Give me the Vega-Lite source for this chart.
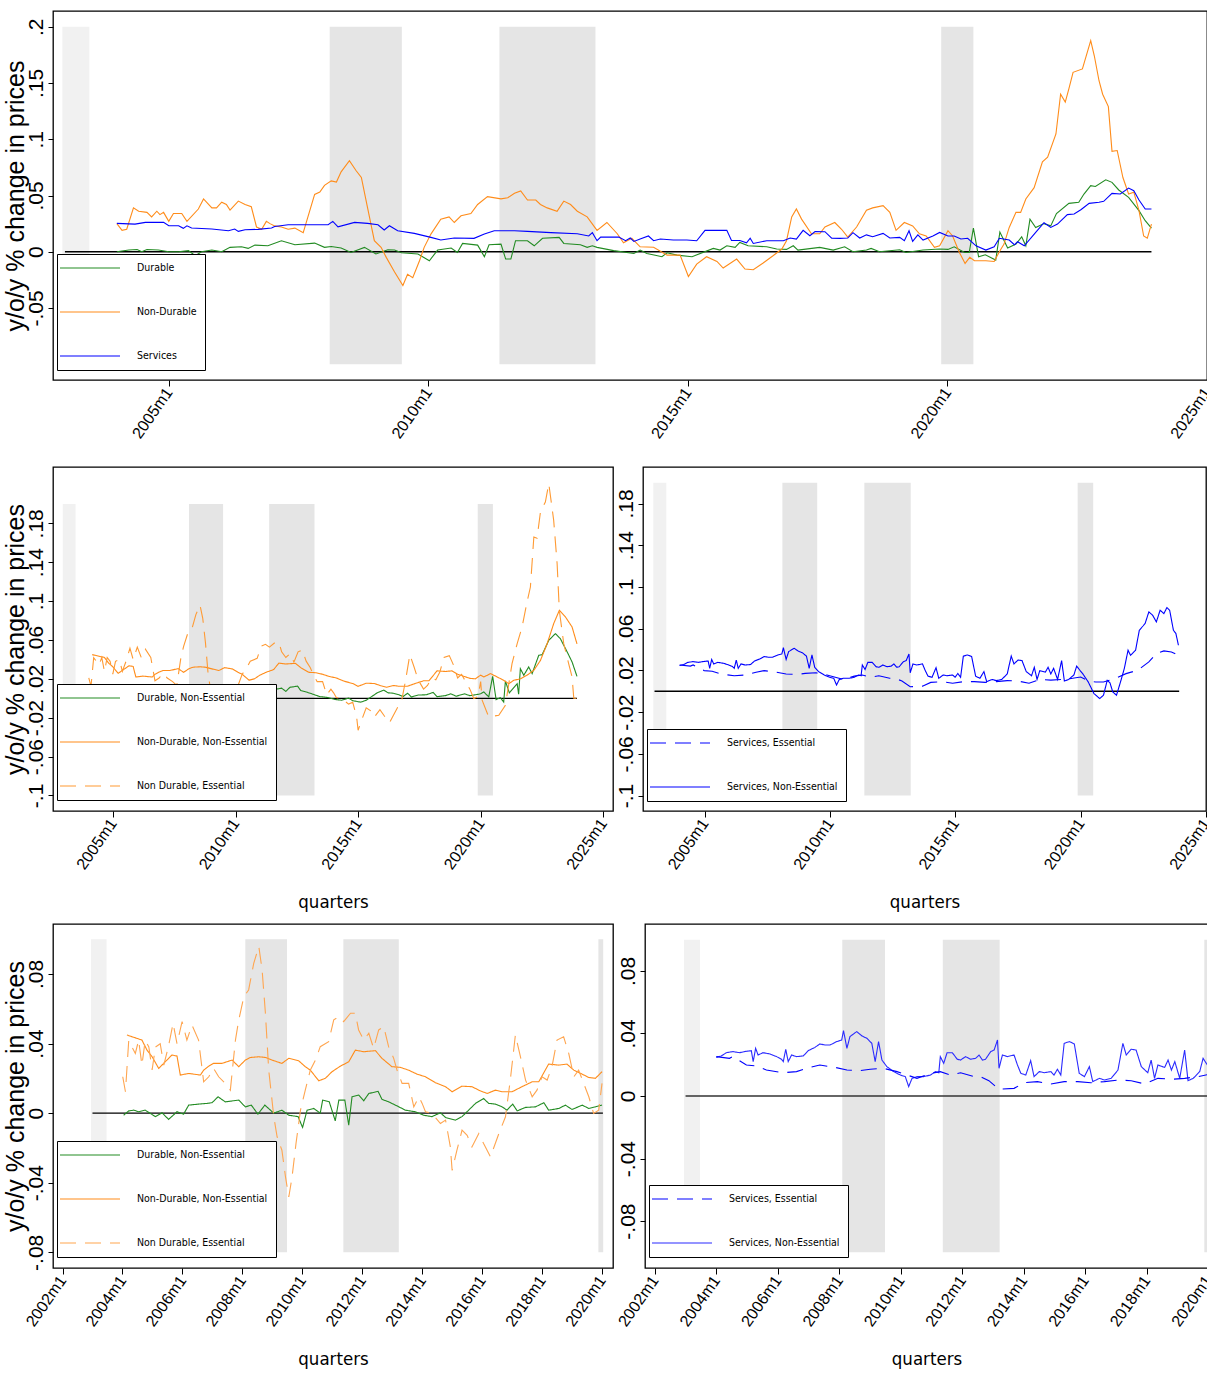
{
"$schema": "https://vega.github.io/schema/vega-lite/v6.json",
"padding": {"left": 2, "top": 10, "right": 0, "bottom": 0},
"background": "white",
"config": {
 "view": {"stroke": "black", "strokeWidth": 1.3},
 "axis": {"grid": false, "domain": false, "tickColor": "black", "tickSize": 5, "labelFont": "Liberation Sans", "labelColor": "black", "titleFont": "Liberation Sans", "titleColor": "black", "titleFontWeight": "normal", "labelOverlap": false, "labelFlush": false, "labelBound": false},
 "axisX": {"labelAngle": -55, "labelAlign": "right", "labelBaseline": "middle", "labelFontSize": 16, "tickSize": 6, "labelPadding": 3, "titleFont": "DejaVu Sans Condensed, Liberation Sans", "titleFontSize": 18.5, "titlePadding": 21},
 "axisY": {"labelAngle": -90, "labelAlign": "center", "labelBaseline": "bottom", "labelFontSize": 21, "labelPadding": 2, "titleFontSize": 25, "titlePadding": -3},
 "legend": {"labelFont": "DejaVu Sans Condensed, Liberation Sans", "labelFontSize": 10.5, "labelColor": "black", "symbolSize": 100, "symbolStrokeWidth": 1.1, "padding": 8, "rowPadding": 32, "labelOffset": 60, "strokeColor": "black", "fillColor": "white", "cornerRadius": 0}
},
"datasets": {
 "bands": [
  {"t": 2002.95, "t2": 2003.47, "t3": 2003.47, "kind": "light"},
  {"t": 2008.1, "t2": 2009.49, "t3": 2009.49, "kind": "dark"},
  {"t": 2011.37, "t2": 2013.22, "t3": 2013.22, "kind": "dark"},
  {"t": 2019.88, "t2": 2020.5, "t3": 2020.04, "kind": "dark"}
 ],
 "zero": [
  {"p": "full", "t": 2003.0, "t2": 2023.93},
  {"p": "pre", "t": 2003.0, "t2": 2020.03}
 ],
 "series": [
{"s":"Durable","t":2004.0,"v":0},{"s":"Durable","t":2004.23,"v":0.0015},{"s":"Durable","t":2004.39,"v":0.002},{"s":"Durable","t":2004.48,"v":0},{"s":"Durable","t":2004.58,"v":0.002},{"s":"Durable","t":2004.8,"v":0.0015},{"s":"Durable","t":2005.0,"v":0},{"s":"Durable","t":2005.19,"v":0},{"s":"Durable","t":2005.38,"v":0.001},{"s":"Durable","t":2005.51,"v":-0.0036},{"s":"Durable","t":2005.63,"v":0},{"s":"Durable","t":2005.83,"v":0.0015},{"s":"Durable","t":2006.02,"v":0},{"s":"Durable","t":2006.18,"v":0.0039},{"s":"Durable","t":2006.4,"v":0.0044},{"s":"Durable","t":2006.53,"v":0.003},{"s":"Durable","t":2006.66,"v":0.0059},{"s":"Durable","t":2006.91,"v":0.0053},{"s":"Durable","t":2007.17,"v":0.0098},{"s":"Durable","t":2007.43,"v":0.0062},{"s":"Durable","t":2007.81,"v":0.0077},{"s":"Durable","t":2008.0,"v":0.0039},{"s":"Durable","t":2008.13,"v":0.0047},{"s":"Durable","t":2008.32,"v":0.0033},{"s":"Durable","t":2008.51,"v":-0.0006},{"s":"Durable","t":2008.77,"v":0.0039},{"s":"Durable","t":2008.99,"v":-0.002},{"s":"Durable","t":2009.22,"v":0.0018},{"s":"Durable","t":2009.35,"v":0.0015},{"s":"Durable","t":2009.48,"v":-0.0009},{"s":"Durable","t":2009.8,"v":-0.002},{"s":"Durable","t":2010.02,"v":-0.008},{"s":"Durable","t":2010.18,"v":0.0015},{"s":"Durable","t":2010.44,"v":0.0033},{"s":"Durable","t":2010.56,"v":-0.0006},{"s":"Durable","t":2010.66,"v":0.0074},{"s":"Durable","t":2010.95,"v":0.0059},{"s":"Durable","t":2011.08,"v":-0.0044},{"s":"Durable","t":2011.17,"v":0.0062},{"s":"Durable","t":2011.4,"v":0.0068},{"s":"Durable","t":2011.49,"v":-0.0065},{"s":"Durable","t":2011.59,"v":-0.0065},{"s":"Durable","t":2011.68,"v":0.0098},{"s":"Durable","t":2011.91,"v":0.0098},{"s":"Durable","t":2012.04,"v":0.0053},{"s":"Durable","t":2012.2,"v":0.012},{"s":"Durable","t":2012.52,"v":0.0128},{"s":"Durable","t":2012.61,"v":0.0074},{"s":"Durable","t":2012.93,"v":0.0062},{"s":"Durable","t":2013.06,"v":0.0039},{"s":"Durable","t":2013.16,"v":0.0053},{"s":"Durable","t":2013.25,"v":0.0039},{"s":"Durable","t":2013.57,"v":0.001},{"s":"Durable","t":2013.96,"v":-0.0015},{"s":"Durable","t":2014.08,"v":0.0015},{"s":"Durable","t":2014.21,"v":-0.0015},{"s":"Durable","t":2014.5,"v":-0.0044},{"s":"Durable","t":2014.6,"v":-0.0009},{"s":"Durable","t":2014.79,"v":-0.003},{"s":"Durable","t":2015.08,"v":-0.0044},{"s":"Durable","t":2015.49,"v":0.003},{"s":"Durable","t":2015.62,"v":0.0015},{"s":"Durable","t":2015.75,"v":0.0053},{"s":"Durable","t":2015.91,"v":0.0039},{"s":"Durable","t":2016.0,"v":0.0083},{"s":"Durable","t":2016.16,"v":0.0053},{"s":"Durable","t":2016.52,"v":0.0044},{"s":"Durable","t":2016.71,"v":0.0024},{"s":"Durable","t":2016.9,"v":0.0021},{"s":"Durable","t":2017.03,"v":0.0053},{"s":"Durable","t":2017.12,"v":0.0015},{"s":"Durable","t":2017.54,"v":0.0039},{"s":"Durable","t":2017.8,"v":0.0015},{"s":"Durable","t":2018.02,"v":0.0044},{"s":"Durable","t":2018.18,"v":0},{"s":"Durable","t":2018.44,"v":0.0015},{"s":"Durable","t":2018.53,"v":0.003},{"s":"Durable","t":2018.69,"v":0},{"s":"Durable","t":2019.08,"v":0.0018},{"s":"Durable","t":2019.2,"v":-0.0006},{"s":"Durable","t":2019.53,"v":0.0015},{"s":"Durable","t":2019.85,"v":0.0024},{"s":"Durable","t":2020.01,"v":0.0021},{"s":"Durable","t":2020.13,"v":0.0044},{"s":"Durable","t":2020.33,"v":-0.0006},{"s":"Durable","t":2020.42,"v":-0.0006},{"s":"Durable","t":2020.5,"v":0.021},{"s":"Durable","t":2020.6,"v":-0.0044},{"s":"Durable","t":2020.73,"v":-0.0027},{"s":"Durable","t":2020.93,"v":-0.0074},{"s":"Durable","t":2021.01,"v":0.0175},{"s":"Durable","t":2021.16,"v":0.0033},{"s":"Durable","t":2021.32,"v":0.0068},{"s":"Durable","t":2021.43,"v":0.0133},{"s":"Durable","t":2021.51,"v":0.0053},{"s":"Durable","t":2021.59,"v":0.029},{"s":"Durable","t":2021.7,"v":0.0216},{"s":"Durable","t":2021.86,"v":0.025},{"s":"Durable","t":2021.99,"v":0.023},{"s":"Durable","t":2022.1,"v":0.034},{"s":"Durable","t":2022.34,"v":0.043},{"s":"Durable","t":2022.53,"v":0.044},{"s":"Durable","t":2022.63,"v":0.0513},{"s":"Durable","t":2022.76,"v":0.0587},{"s":"Durable","t":2022.85,"v":0.058},{"s":"Durable","t":2023.05,"v":0.064},{"s":"Durable","t":2023.17,"v":0.0617},{"s":"Durable","t":2023.3,"v":0.0549},{"s":"Durable","t":2023.49,"v":0.0483},{"s":"Durable","t":2023.69,"v":0.0365},{"s":"Durable","t":2023.81,"v":0.0276},{"s":"Durable","t":2023.93,"v":0.021},
{"s":"Non-Durable","t":2004.0,"v":0.025},{"s":"Non-Durable","t":2004.1,"v":0.019},{"s":"Non-Durable","t":2004.19,"v":0.02},{"s":"Non-Durable","t":2004.32,"v":0.039},{"s":"Non-Durable","t":2004.42,"v":0.036},{"s":"Non-Durable","t":2004.58,"v":0.035},{"s":"Non-Durable","t":2004.67,"v":0.031},{"s":"Non-Durable","t":2004.77,"v":0.036},{"s":"Non-Durable","t":2004.83,"v":0.033},{"s":"Non-Durable","t":2004.9,"v":0.035},{"s":"Non-Durable","t":2005.0,"v":0.027},{"s":"Non-Durable","t":2005.09,"v":0.034},{"s":"Non-Durable","t":2005.25,"v":0.034},{"s":"Non-Durable","t":2005.35,"v":0.027},{"s":"Non-Durable","t":2005.57,"v":0.038},{"s":"Non-Durable","t":2005.67,"v":0.047},{"s":"Non-Durable","t":2005.83,"v":0.039},{"s":"Non-Durable","t":2005.92,"v":0.039},{"s":"Non-Durable","t":2006.02,"v":0.044},{"s":"Non-Durable","t":2006.11,"v":0.042},{"s":"Non-Durable","t":2006.18,"v":0.037},{"s":"Non-Durable","t":2006.34,"v":0.045},{"s":"Non-Durable","t":2006.47,"v":0.042},{"s":"Non-Durable","t":2006.59,"v":0.04},{"s":"Non-Durable","t":2006.69,"v":0.022},{"s":"Non-Durable","t":2006.79,"v":0.02},{"s":"Non-Durable","t":2006.88,"v":0.027},{"s":"Non-Durable","t":2006.95,"v":0.025},{"s":"Non-Durable","t":2007.04,"v":0.023},{"s":"Non-Durable","t":2007.17,"v":0.022},{"s":"Non-Durable","t":2007.3,"v":0.02},{"s":"Non-Durable","t":2007.43,"v":0.021},{"s":"Non-Durable","t":2007.59,"v":0.017},{"s":"Non-Durable","t":2007.81,"v":0.051},{"s":"Non-Durable","t":2007.91,"v":0.053},{"s":"Non-Durable","t":2008.0,"v":0.059},{"s":"Non-Durable","t":2008.13,"v":0.063},{"s":"Non-Durable","t":2008.23,"v":0.062},{"s":"Non-Durable","t":2008.32,"v":0.071},{"s":"Non-Durable","t":2008.48,"v":0.081},{"s":"Non-Durable","t":2008.61,"v":0.072},{"s":"Non-Durable","t":2008.71,"v":0.066},{"s":"Non-Durable","t":2008.83,"v":0.039},{"s":"Non-Durable","t":2008.96,"v":0.0098},{"s":"Non-Durable","t":2009.09,"v":0.0039},{"s":"Non-Durable","t":2009.19,"v":-0.005},{"s":"Non-Durable","t":2009.35,"v":-0.018},{"s":"Non-Durable","t":2009.51,"v":-0.03},{"s":"Non-Durable","t":2009.6,"v":-0.02},{"s":"Non-Durable","t":2009.7,"v":-0.023},{"s":"Non-Durable","t":2009.83,"v":-0.008},{"s":"Non-Durable","t":2009.92,"v":0.0039},{"s":"Non-Durable","t":2010.05,"v":0.0157},{"s":"Non-Durable","t":2010.24,"v":0.029},{"s":"Non-Durable","t":2010.4,"v":0.031},{"s":"Non-Durable","t":2010.5,"v":0.026},{"s":"Non-Durable","t":2010.63,"v":0.032},{"s":"Non-Durable","t":2010.82,"v":0.034},{"s":"Non-Durable","t":2010.95,"v":0.042},{"s":"Non-Durable","t":2011.14,"v":0.049},{"s":"Non-Durable","t":2011.4,"v":0.047},{"s":"Non-Durable","t":2011.53,"v":0.048},{"s":"Non-Durable","t":2011.66,"v":0.052},{"s":"Non-Durable","t":2011.78,"v":0.054},{"s":"Non-Durable","t":2011.91,"v":0.046},{"s":"Non-Durable","t":2012.07,"v":0.046},{"s":"Non-Durable","t":2012.16,"v":0.042},{"s":"Non-Durable","t":2012.29,"v":0.039},{"s":"Non-Durable","t":2012.48,"v":0.036},{"s":"Non-Durable","t":2012.61,"v":0.045},{"s":"Non-Durable","t":2012.74,"v":0.042},{"s":"Non-Durable","t":2012.87,"v":0.036},{"s":"Non-Durable","t":2013.06,"v":0.031},{"s":"Non-Durable","t":2013.25,"v":0.019},{"s":"Non-Durable","t":2013.44,"v":0.026},{"s":"Non-Durable","t":2013.64,"v":0.016},{"s":"Non-Durable","t":2013.76,"v":0.008},{"s":"Non-Durable","t":2013.92,"v":0.012},{"s":"Non-Durable","t":2014.08,"v":0.0044},{"s":"Non-Durable","t":2014.34,"v":0.004},{"s":"Non-Durable","t":2014.6,"v":-0.003},{"s":"Non-Durable","t":2014.85,"v":-0.003},{"s":"Non-Durable","t":2015.01,"v":-0.022},{"s":"Non-Durable","t":2015.17,"v":-0.011},{"s":"Non-Durable","t":2015.36,"v":-0.0044},{"s":"Non-Durable","t":2015.56,"v":-0.0086},{"s":"Non-Durable","t":2015.68,"v":-0.0145},{"s":"Non-Durable","t":2015.94,"v":-0.0065},{"s":"Non-Durable","t":2016.1,"v":-0.0154},{"s":"Non-Durable","t":2016.26,"v":-0.016},{"s":"Non-Durable","t":2016.45,"v":-0.01},{"s":"Non-Durable","t":2016.64,"v":-0.0036},{"s":"Non-Durable","t":2016.81,"v":0.0024},{"s":"Non-Durable","t":2016.9,"v":0.0098},{"s":"Non-Durable","t":2017.0,"v":0.031},{"s":"Non-Durable","t":2017.09,"v":0.038},{"s":"Non-Durable","t":2017.19,"v":0.029},{"s":"Non-Durable","t":2017.38,"v":0.016},{"s":"Non-Durable","t":2017.54,"v":0.016},{"s":"Non-Durable","t":2017.64,"v":0.022},{"s":"Non-Durable","t":2017.83,"v":0.026},{"s":"Non-Durable","t":2017.96,"v":0.02},{"s":"Non-Durable","t":2018.08,"v":0.013},{"s":"Non-Durable","t":2018.25,"v":0.022},{"s":"Non-Durable","t":2018.44,"v":0.037},{"s":"Non-Durable","t":2018.56,"v":0.039},{"s":"Non-Durable","t":2018.76,"v":0.041},{"s":"Non-Durable","t":2018.89,"v":0.035},{"s":"Non-Durable","t":2019.01,"v":0.019},{"s":"Non-Durable","t":2019.17,"v":0.026},{"s":"Non-Durable","t":2019.33,"v":0.023},{"s":"Non-Durable","t":2019.46,"v":0.016},{"s":"Non-Durable","t":2019.59,"v":0.014},{"s":"Non-Durable","t":2019.75,"v":0.0039},{"s":"Non-Durable","t":2019.85,"v":0.0053},{"s":"Non-Durable","t":2020.01,"v":0.0187},{"s":"Non-Durable","t":2020.1,"v":0.014},{"s":"Non-Durable","t":2020.23,"v":-0.0006},{"s":"Non-Durable","t":2020.34,"v":-0.0104},{"s":"Non-Durable","t":2020.43,"v":-0.005},{"s":"Non-Durable","t":2020.52,"v":-0.008},{"s":"Non-Durable","t":2020.74,"v":-0.008},{"s":"Non-Durable","t":2020.9,"v":-0.0086},{"s":"Non-Durable","t":2021.0,"v":0},{"s":"Non-Durable","t":2021.09,"v":0.0068},{"s":"Non-Durable","t":2021.19,"v":0.0216},{"s":"Non-Durable","t":2021.32,"v":0.035},{"s":"Non-Durable","t":2021.41,"v":0.035},{"s":"Non-Durable","t":2021.51,"v":0.0469},{"s":"Non-Durable","t":2021.67,"v":0.057},{"s":"Non-Durable","t":2021.83,"v":0.08},{"s":"Non-Durable","t":2021.93,"v":0.084},{"s":"Non-Durable","t":2022.09,"v":0.1047},{"s":"Non-Durable","t":2022.18,"v":0.14},{"s":"Non-Durable","t":2022.27,"v":0.133},{"s":"Non-Durable","t":2022.34,"v":0.145},{"s":"Non-Durable","t":2022.42,"v":0.1595},{"s":"Non-Durable","t":2022.6,"v":0.1625},{"s":"Non-Durable","t":2022.76,"v":0.1877},{"s":"Non-Durable","t":2022.83,"v":0.174},{"s":"Non-Durable","t":2022.92,"v":0.152},{"s":"Non-Durable","t":2022.99,"v":0.14},{"s":"Non-Durable","t":2023.1,"v":0.129},{"s":"Non-Durable","t":2023.17,"v":0.0893},{"s":"Non-Durable","t":2023.27,"v":0.09},{"s":"Non-Durable","t":2023.38,"v":0.066},{"s":"Non-Durable","t":2023.49,"v":0.0513},{"s":"Non-Durable","t":2023.59,"v":0.053},{"s":"Non-Durable","t":2023.69,"v":0.0365},{"s":"Non-Durable","t":2023.78,"v":0.014},{"s":"Non-Durable","t":2023.85,"v":0.012},{"s":"Non-Durable","t":2023.93,"v":0.0246},
{"s":"Services","t":2004.0,"v":0.0252},{"s":"Services","t":2004.35,"v":0.0246},{"s":"Services","t":2004.55,"v":0.0261},{"s":"Services","t":2004.9,"v":0.0261},{"s":"Services","t":2005.0,"v":0.0231},{"s":"Services","t":2005.19,"v":0.0231},{"s":"Services","t":2005.28,"v":0.0208},{"s":"Services","t":2005.35,"v":0.0231},{"s":"Services","t":2005.44,"v":0.0211},{"s":"Services","t":2005.83,"v":0.0202},{"s":"Services","t":2006.15,"v":0.0187},{"s":"Services","t":2006.27,"v":0.0202},{"s":"Services","t":2006.34,"v":0.0181},{"s":"Services","t":2006.47,"v":0.0196},{"s":"Services","t":2006.72,"v":0.0199},{"s":"Services","t":2006.98,"v":0.0211},{"s":"Services","t":2007.04,"v":0.0225},{"s":"Services","t":2007.3,"v":0.024},{"s":"Services","t":2007.68,"v":0.024},{"s":"Services","t":2008.07,"v":0.024},{"s":"Services","t":2008.16,"v":0.027},{"s":"Services","t":2008.26,"v":0.0222},{"s":"Services","t":2008.58,"v":0.0261},{"s":"Services","t":2008.83,"v":0.0252},{"s":"Services","t":2009.03,"v":0.024},{"s":"Services","t":2009.15,"v":0.0193},{"s":"Services","t":2009.25,"v":0.0231},{"s":"Services","t":2009.41,"v":0.0187},{"s":"Services","t":2009.73,"v":0.0163},{"s":"Services","t":2010.05,"v":0.0128},{"s":"Services","t":2010.24,"v":0.0104},{"s":"Services","t":2010.5,"v":0.0122},{"s":"Services","t":2010.88,"v":0.0119},{"s":"Services","t":2011.08,"v":0.0157},{"s":"Services","t":2011.27,"v":0.0187},{"s":"Services","t":2011.4,"v":0.0187},{"s":"Services","t":2011.66,"v":0.0187},{"s":"Services","t":2011.91,"v":0.0181},{"s":"Services","t":2012.36,"v":0.017},{"s":"Services","t":2012.87,"v":0.016},{"s":"Services","t":2013.09,"v":0.014},{"s":"Services","t":2013.16,"v":0.017},{"s":"Services","t":2013.25,"v":0.0098},{"s":"Services","t":2013.32,"v":0.013},{"s":"Services","t":2013.67,"v":0.013},{"s":"Services","t":2013.8,"v":0.0098},{"s":"Services","t":2013.89,"v":0.0122},{"s":"Services","t":2013.96,"v":0.0092},{"s":"Services","t":2014.08,"v":0.0113},{"s":"Services","t":2014.24,"v":0.014},{"s":"Services","t":2014.34,"v":0.0098},{"s":"Services","t":2014.47,"v":0.0113},{"s":"Services","t":2014.72,"v":0.0104},{"s":"Services","t":2014.98,"v":0.0104},{"s":"Services","t":2015.17,"v":0.0098},{"s":"Services","t":2015.33,"v":0.019},{"s":"Services","t":2015.75,"v":0.019},{"s":"Services","t":2015.84,"v":0.01},{"s":"Services","t":2016.0,"v":0.01},{"s":"Services","t":2016.13,"v":0.008},{"s":"Services","t":2016.2,"v":0.012},{"s":"Services","t":2016.26,"v":0.0074},{"s":"Services","t":2016.52,"v":0.0098},{"s":"Services","t":2016.84,"v":0.0098},{"s":"Services","t":2016.97,"v":0.0122},{"s":"Services","t":2017.09,"v":0.0113},{"s":"Services","t":2017.22,"v":0.019},{"s":"Services","t":2017.35,"v":0.0142},{"s":"Services","t":2017.45,"v":0.018},{"s":"Services","t":2017.64,"v":0.0178},{"s":"Services","t":2017.77,"v":0.012},{"s":"Services","t":2017.93,"v":0.0119},{"s":"Services","t":2018.08,"v":0.0122},{"s":"Services","t":2018.18,"v":0.017},{"s":"Services","t":2018.31,"v":0.0122},{"s":"Services","t":2018.44,"v":0.015},{"s":"Services","t":2018.56,"v":0.0134},{"s":"Services","t":2018.76,"v":0.0163},{"s":"Services","t":2018.89,"v":0.0122},{"s":"Services","t":2019.08,"v":0.0128},{"s":"Services","t":2019.17,"v":0.0098},{"s":"Services","t":2019.26,"v":0.0187},{"s":"Services","t":2019.33,"v":0.0092},{"s":"Services","t":2019.43,"v":0.015},{"s":"Services","t":2019.53,"v":0.0104},{"s":"Services","t":2019.72,"v":0.014},{"s":"Services","t":2019.85,"v":0.0172},{"s":"Services","t":2020.01,"v":0.014},{"s":"Services","t":2020.13,"v":0.014},{"s":"Services","t":2020.26,"v":0.0113},{"s":"Services","t":2020.39,"v":0.012},{"s":"Services","t":2020.55,"v":0.0053},{"s":"Services","t":2020.74,"v":0.0015},{"s":"Services","t":2020.9,"v":0.0044},{"s":"Services","t":2021.0,"v":0.012},{"s":"Services","t":2021.19,"v":0.0104},{"s":"Services","t":2021.29,"v":0.0062},{"s":"Services","t":2021.35,"v":0.0089},{"s":"Services","t":2021.48,"v":0.0053},{"s":"Services","t":2021.7,"v":0.0172},{"s":"Services","t":2021.86,"v":0.0258},{"s":"Services","t":2021.99,"v":0.0216},{"s":"Services","t":2022.12,"v":0.0246},{"s":"Services","t":2022.31,"v":0.033},{"s":"Services","t":2022.44,"v":0.0335},{"s":"Services","t":2022.57,"v":0.0374},{"s":"Services","t":2022.73,"v":0.043},{"s":"Services","t":2022.92,"v":0.044},{"s":"Services","t":2023.01,"v":0.0448},{"s":"Services","t":2023.17,"v":0.0519},{"s":"Services","t":2023.33,"v":0.0513},{"s":"Services","t":2023.49,"v":0.0566},{"s":"Services","t":2023.59,"v":0.0543},{"s":"Services","t":2023.69,"v":0.046},{"s":"Services","t":2023.81,"v":0.038},{"s":"Services","t":2023.93,"v":0.038},
{"s":"Durable, Non-Essential","t":2004.04,"v":-0.0012},{"s":"Durable, Non-Essential","t":2004.21,"v":0.0013},{"s":"Durable, Non-Essential","t":2004.38,"v":0.0017},{"s":"Durable, Non-Essential","t":2004.54,"v":0.0008},{"s":"Durable, Non-Essential","t":2004.76,"v":0.0017},{"s":"Durable, Non-Essential","t":2005.1,"v":-0.002},{"s":"Durable, Non-Essential","t":2005.32,"v":0.0002},{"s":"Durable, Non-Essential","t":2005.54,"v":-0.0036},{"s":"Durable, Non-Essential","t":2005.82,"v":0.0008},{"s":"Durable, Non-Essential","t":2006.04,"v":-0.0006},{"s":"Durable, Non-Essential","t":2006.21,"v":0.0046},{"s":"Durable, Non-Essential","t":2006.54,"v":0.0052},{"s":"Durable, Non-Essential","t":2006.82,"v":0.0056},{"s":"Durable, Non-Essential","t":2006.99,"v":0.006},{"s":"Durable, Non-Essential","t":2007.19,"v":0.0094},{"s":"Durable, Non-Essential","t":2007.43,"v":0.0065},{"s":"Durable, Non-Essential","t":2007.88,"v":0.0075},{"s":"Durable, Non-Essential","t":2008.1,"v":0.0036},{"s":"Durable, Non-Essential","t":2008.3,"v":0.0046},{"s":"Durable, Non-Essential","t":2008.52,"v":-0.0006},{"s":"Durable, Non-Essential","t":2008.75,"v":0.0046},{"s":"Durable, Non-Essential","t":2009.05,"v":0},{"s":"Durable, Non-Essential","t":2009.32,"v":0.0017},{"s":"Durable, Non-Essential","t":2009.55,"v":-0.0012},{"s":"Durable, Non-Essential","t":2009.86,"v":-0.002},{"s":"Durable, Non-Essential","t":2010.01,"v":-0.0082},{"s":"Durable, Non-Essential","t":2010.16,"v":0.0017},{"s":"Durable, Non-Essential","t":2010.38,"v":0.0027},{"s":"Durable, Non-Essential","t":2010.6,"v":0},{"s":"Durable, Non-Essential","t":2010.68,"v":0.0075},{"s":"Durable, Non-Essential","t":2010.9,"v":0.0065},{"s":"Durable, Non-Essential","t":2011.1,"v":-0.0044},{"s":"Durable, Non-Essential","t":2011.22,"v":0.0075},{"s":"Durable, Non-Essential","t":2011.42,"v":0.0075},{"s":"Durable, Non-Essential","t":2011.55,"v":-0.0069},{"s":"Durable, Non-Essential","t":2011.66,"v":0.0094},{"s":"Durable, Non-Essential","t":2011.88,"v":0.0104},{"s":"Durable, Non-Essential","t":2012.05,"v":0.0071},{"s":"Durable, Non-Essential","t":2012.22,"v":0.0113},{"s":"Durable, Non-Essential","t":2012.53,"v":0.0125},{"s":"Durable, Non-Essential","t":2012.66,"v":0.0079},{"s":"Durable, Non-Essential","t":2012.88,"v":0.0065},{"s":"Durable, Non-Essential","t":2013.11,"v":0.0046},{"s":"Durable, Non-Essential","t":2013.44,"v":0.0017},{"s":"Durable, Non-Essential","t":2013.77,"v":0.0008},{"s":"Durable, Non-Essential","t":2014.05,"v":-0.0012},{"s":"Durable, Non-Essential","t":2014.33,"v":-0.002},{"s":"Durable, Non-Essential","t":2014.61,"v":0.0002},{"s":"Durable, Non-Essential","t":2014.78,"v":-0.0025},{"s":"Durable, Non-Essential","t":2015.11,"v":-0.004},{"s":"Durable, Non-Essential","t":2015.33,"v":-0.002},{"s":"Durable, Non-Essential","t":2015.55,"v":0.0017},{"s":"Durable, Non-Essential","t":2015.78,"v":0.0056},{"s":"Durable, Non-Essential","t":2016.05,"v":0.0084},{"s":"Durable, Non-Essential","t":2016.22,"v":0.0056},{"s":"Durable, Non-Essential","t":2016.44,"v":0.0052},{"s":"Durable, Non-Essential","t":2016.67,"v":0.0036},{"s":"Durable, Non-Essential","t":2016.83,"v":0.0017},{"s":"Durable, Non-Essential","t":2017.02,"v":0.0052},{"s":"Durable, Non-Essential","t":2017.17,"v":0.0013},{"s":"Durable, Non-Essential","t":2017.45,"v":0.0033},{"s":"Durable, Non-Essential","t":2017.78,"v":0.0036},{"s":"Durable, Non-Essential","t":2018.06,"v":0.006},{"s":"Durable, Non-Essential","t":2018.22,"v":0.0017},{"s":"Durable, Non-Essential","t":2018.56,"v":0.0027},{"s":"Durable, Non-Essential","t":2018.78,"v":0.0046},{"s":"Durable, Non-Essential","t":2019.0,"v":0.0021},{"s":"Durable, Non-Essential","t":2019.34,"v":0.0046},{"s":"Durable, Non-Essential","t":2019.56,"v":0.0027},{"s":"Durable, Non-Essential","t":2019.78,"v":0.0036},{"s":"Durable, Non-Essential","t":2020.0,"v":0.0046},{"s":"Durable, Non-Essential","t":2020.13,"v":0.0065},{"s":"Durable, Non-Essential","t":2020.33,"v":0.0014},{"s":"Durable, Non-Essential","t":2020.49,"v":0.0226},{"s":"Durable, Non-Essential","t":2020.63,"v":-0.0014},{"s":"Durable, Non-Essential","t":2020.8,"v":0.0007},{"s":"Durable, Non-Essential","t":2020.94,"v":-0.0038},{"s":"Durable, Non-Essential","t":2021.01,"v":0.0178},{"s":"Durable, Non-Essential","t":2021.17,"v":0.0055},{"s":"Durable, Non-Essential","t":2021.49,"v":0.015},{"s":"Durable, Non-Essential","t":2021.55,"v":0.0041},{"s":"Durable, Non-Essential","t":2021.62,"v":0.0305},{"s":"Durable, Non-Essential","t":2021.76,"v":0.0237},{"s":"Durable, Non-Essential","t":2021.96,"v":0.0322},{"s":"Durable, Non-Essential","t":2022.1,"v":0.0254},{"s":"Durable, Non-Essential","t":2022.37,"v":0.0442},{"s":"Durable, Non-Essential","t":2022.51,"v":0.0449},{"s":"Durable, Non-Essential","t":2022.78,"v":0.0597},{"s":"Durable, Non-Essential","t":2023.05,"v":0.0665},{"s":"Durable, Non-Essential","t":2023.25,"v":0.0614},{"s":"Durable, Non-Essential","t":2023.53,"v":0.0477},{"s":"Durable, Non-Essential","t":2023.73,"v":0.0374},{"s":"Durable, Non-Essential","t":2023.93,"v":0.0226},
{"s":"Non-Durable, Non-Essential","t":2004.15,"v":0.0449},{"s":"Non-Durable, Non-Essential","t":2004.65,"v":0.042},{"s":"Non-Durable, Non-Essential","t":2004.82,"v":0.0362},{"s":"Non-Durable, Non-Essential","t":2004.99,"v":0.0324},{"s":"Non-Durable, Non-Essential","t":2005.21,"v":0.0257},{"s":"Non-Durable, Non-Essential","t":2005.65,"v":0.0334},{"s":"Non-Durable, Non-Essential","t":2005.82,"v":0.0328},{"s":"Non-Durable, Non-Essential","t":2005.93,"v":0.0219},{"s":"Non-Durable, Non-Essential","t":2006.21,"v":0.0228},{"s":"Non-Durable, Non-Essential","t":2006.6,"v":0.0219},{"s":"Non-Durable, Non-Essential","t":2006.71,"v":0.0247},{"s":"Non-Durable, Non-Essential","t":2006.88,"v":0.027},{"s":"Non-Durable, Non-Essential","t":2007.04,"v":0.0286},{"s":"Non-Durable, Non-Essential","t":2007.32,"v":0.0286},{"s":"Non-Durable, Non-Essential","t":2007.66,"v":0.0305},{"s":"Non-Durable, Non-Essential","t":2007.88,"v":0.0267},{"s":"Non-Durable, Non-Essential","t":2008.1,"v":0.0305},{"s":"Non-Durable, Non-Essential","t":2008.27,"v":0.032},{"s":"Non-Durable, Non-Essential","t":2008.55,"v":0.0324},{"s":"Non-Durable, Non-Essential","t":2008.77,"v":0.032},{"s":"Non-Durable, Non-Essential","t":2008.99,"v":0.0305},{"s":"Non-Durable, Non-Essential","t":2009.32,"v":0.0286},{"s":"Non-Durable, Non-Essential","t":2009.55,"v":0.0315},{"s":"Non-Durable, Non-Essential","t":2009.88,"v":0.0301},{"s":"Non-Durable, Non-Essential","t":2010.1,"v":0.0267},{"s":"Non-Durable, Non-Essential","t":2010.27,"v":0.0247},{"s":"Non-Durable, Non-Essential","t":2010.55,"v":0.0186},{"s":"Non-Durable, Non-Essential","t":2010.77,"v":0.02},{"s":"Non-Durable, Non-Essential","t":2010.99,"v":0.0238},{"s":"Non-Durable, Non-Essential","t":2011.27,"v":0.027},{"s":"Non-Durable, Non-Essential","t":2011.55,"v":0.0295},{"s":"Non-Durable, Non-Essential","t":2011.77,"v":0.0362},{"s":"Non-Durable, Non-Essential","t":2012.05,"v":0.0353},{"s":"Non-Durable, Non-Essential","t":2012.44,"v":0.0359},{"s":"Non-Durable, Non-Essential","t":2012.66,"v":0.0315},{"s":"Non-Durable, Non-Essential","t":2012.99,"v":0.0267},{"s":"Non-Durable, Non-Essential","t":2013.27,"v":0.0263},{"s":"Non-Durable, Non-Essential","t":2013.55,"v":0.0247},{"s":"Non-Durable, Non-Essential","t":2013.83,"v":0.0224},{"s":"Non-Durable, Non-Essential","t":2014.11,"v":0.0209},{"s":"Non-Durable, Non-Essential","t":2014.44,"v":0.0175},{"s":"Non-Durable, Non-Essential","t":2014.78,"v":0.0152},{"s":"Non-Durable, Non-Essential","t":2015.0,"v":0.0123},{"s":"Non-Durable, Non-Essential","t":2015.33,"v":0.0155},{"s":"Non-Durable, Non-Essential","t":2015.66,"v":0.0152},{"s":"Non-Durable, Non-Essential","t":2015.94,"v":0.0128},{"s":"Non-Durable, Non-Essential","t":2016.17,"v":0.0113},{"s":"Non-Durable, Non-Essential","t":2016.44,"v":0.0132},{"s":"Non-Durable, Non-Essential","t":2016.67,"v":0.0123},{"s":"Non-Durable, Non-Essential","t":2017.0,"v":0.0123},{"s":"Non-Durable, Non-Essential","t":2017.33,"v":0.0152},{"s":"Non-Durable, Non-Essential","t":2017.67,"v":0.018},{"s":"Non-Durable, Non-Essential","t":2017.89,"v":0.018},{"s":"Non-Durable, Non-Essential","t":2018.22,"v":0.0282},{"s":"Non-Durable, Non-Essential","t":2018.56,"v":0.0276},{"s":"Non-Durable, Non-Essential","t":2018.83,"v":0.0282},{"s":"Non-Durable, Non-Essential","t":2019.06,"v":0.0247},{"s":"Non-Durable, Non-Essential","t":2019.34,"v":0.0224},{"s":"Non-Durable, Non-Essential","t":2019.56,"v":0.0205},{"s":"Non-Durable, Non-Essential","t":2019.78,"v":0.02},{"s":"Non-Durable, Non-Essential","t":2020.0,"v":0.0238},{"s":"Non-Durable, Non-Essential","t":2020.13,"v":0.0219},{"s":"Non-Durable, Non-Essential","t":2020.4,"v":0.0254},{"s":"Non-Durable, Non-Essential","t":2020.67,"v":0.022},{"s":"Non-Durable, Non-Essential","t":2020.94,"v":0.0185},{"s":"Non-Durable, Non-Essential","t":2021.15,"v":0.015},{"s":"Non-Durable, Non-Essential","t":2021.35,"v":0.0185},{"s":"Non-Durable, Non-Essential","t":2021.62,"v":0.02},{"s":"Non-Durable, Non-Essential","t":2021.89,"v":0.0237},{"s":"Non-Durable, Non-Essential","t":2022.17,"v":0.0288},{"s":"Non-Durable, Non-Essential","t":2022.44,"v":0.039},{"s":"Non-Durable, Non-Essential","t":2022.71,"v":0.056},{"s":"Non-Durable, Non-Essential","t":2022.98,"v":0.0768},{"s":"Non-Durable, Non-Essential","t":2023.21,"v":0.0905},{"s":"Non-Durable, Non-Essential","t":2023.46,"v":0.0837},{"s":"Non-Durable, Non-Essential","t":2023.73,"v":0.0734},{"s":"Non-Durable, Non-Essential","t":2023.93,"v":0.056},
{"s":"Non Durable, Essential","t":2004.01,"v":0.0209},{"s":"Non Durable, Essential","t":2004.1,"v":0.0123},{"s":"Non Durable, Essential","t":2004.21,"v":0.0418},{"s":"Non Durable, Essential","t":2004.32,"v":0.038},{"s":"Non Durable, Essential","t":2004.43,"v":0.0343},{"s":"Non Durable, Essential","t":2004.54,"v":0.042},{"s":"Non Durable, Essential","t":2004.65,"v":0.0276},{"s":"Non Durable, Essential","t":2004.76,"v":0.042},{"s":"Non Durable, Essential","t":2004.88,"v":0.038},{"s":"Non Durable, Essential","t":2004.99,"v":0.0248},{"s":"Non Durable, Essential","t":2005.1,"v":0.038},{"s":"Non Durable, Essential","t":2005.26,"v":0.0399},{"s":"Non Durable, Essential","t":2005.38,"v":0.0276},{"s":"Non Durable, Essential","t":2005.54,"v":0.0388},{"s":"Non Durable, Essential","t":2005.69,"v":0.0516},{"s":"Non Durable, Essential","t":2005.82,"v":0.0399},{"s":"Non Durable, Essential","t":2005.99,"v":0.0526},{"s":"Non Durable, Essential","t":2006.15,"v":0.042},{"s":"Non Durable, Essential","t":2006.32,"v":0.0506},{"s":"Non Durable, Essential","t":2006.54,"v":0.042},{"s":"Non Durable, Essential","t":2006.71,"v":0.018},{"s":"Non Durable, Essential","t":2006.88,"v":0.0209},{"s":"Non Durable, Essential","t":2007.04,"v":0.0257},{"s":"Non Durable, Essential","t":2007.21,"v":0.0209},{"s":"Non Durable, Essential","t":2007.43,"v":0.0171},{"s":"Non Durable, Essential","t":2007.6,"v":0.0132},{"s":"Non Durable, Essential","t":2007.77,"v":0.042},{"s":"Non Durable, Essential","t":2007.88,"v":0.0535},{"s":"Non Durable, Essential","t":2008.05,"v":0.0669},{"s":"Non Durable, Essential","t":2008.21,"v":0.0708},{"s":"Non Durable, Essential","t":2008.38,"v":0.0861},{"s":"Non Durable, Essential","t":2008.55,"v":0.0957},{"s":"Non Durable, Essential","t":2008.66,"v":0.0823},{"s":"Non Durable, Essential","t":2008.77,"v":0.0574},{"s":"Non Durable, Essential","t":2008.88,"v":0.0248},{"s":"Non Durable, Essential","t":2009.05,"v":-0.0021},{"s":"Non Durable, Essential","t":2009.16,"v":-0.0136},{"s":"Non Durable, Essential","t":2009.32,"v":-0.0213},{"s":"Non Durable, Essential","t":2009.44,"v":-0.0366},{"s":"Non Durable, Essential","t":2009.55,"v":-0.0482},{"s":"Non Durable, Essential","t":2009.66,"v":-0.0366},{"s":"Non Durable, Essential","t":2009.79,"v":-0.0175},{"s":"Non Durable, Essential","t":2009.94,"v":0.0017},{"s":"Non Durable, Essential","t":2010.1,"v":0.0132},{"s":"Non Durable, Essential","t":2010.27,"v":0.0248},{"s":"Non Durable, Essential","t":2010.44,"v":0.0305},{"s":"Non Durable, Essential","t":2010.6,"v":0.0382},{"s":"Non Durable, Essential","t":2010.88,"v":0.0411},{"s":"Non Durable, Essential","t":2011.05,"v":0.0536},{"s":"Non Durable, Essential","t":2011.22,"v":0.0555},{"s":"Non Durable, Essential","t":2011.38,"v":0.0526},{"s":"Non Durable, Essential","t":2011.61,"v":0.0574},{"s":"Non Durable, Essential","t":2011.77,"v":0.0574},{"s":"Non Durable, Essential","t":2011.88,"v":0.0478},{"s":"Non Durable, Essential","t":2012.05,"v":0.042},{"s":"Non Durable, Essential","t":2012.22,"v":0.0459},{"s":"Non Durable, Essential","t":2012.38,"v":0.0372},{"s":"Non Durable, Essential","t":2012.55,"v":0.0478},{"s":"Non Durable, Essential","t":2012.72,"v":0.0497},{"s":"Non Durable, Essential","t":2012.88,"v":0.0382},{"s":"Non Durable, Essential","t":2013.05,"v":0.0315},{"s":"Non Durable, Essential","t":2013.16,"v":0.0248},{"s":"Non Durable, Essential","t":2013.33,"v":0.0171},{"s":"Non Durable, Essential","t":2013.55,"v":0.0171},{"s":"Non Durable, Essential","t":2013.72,"v":0.0036},{"s":"Non Durable, Essential","t":2013.89,"v":0.0094},{"s":"Non Durable, Essential","t":2014.0,"v":0.0056},{"s":"Non Durable, Essential","t":2014.11,"v":0.0008},{"s":"Non Durable, Essential","t":2014.33,"v":-0.0002},{"s":"Non Durable, Essential","t":2014.61,"v":-0.006},{"s":"Non Durable, Essential","t":2014.78,"v":-0.004},{"s":"Non Durable, Essential","t":2014.94,"v":-0.0194},{"s":"Non Durable, Essential","t":2015.0,"v":-0.0329},{"s":"Non Durable, Essential","t":2015.16,"v":-0.0213},{"s":"Non Durable, Essential","t":2015.33,"v":-0.0098},{"s":"Non Durable, Essential","t":2015.5,"v":-0.0127},{"s":"Non Durable, Essential","t":2015.66,"v":-0.0194},{"s":"Non Durable, Essential","t":2015.89,"v":-0.0117},{"s":"Non Durable, Essential","t":2016.05,"v":-0.0175},{"s":"Non Durable, Essential","t":2016.28,"v":-0.0251},{"s":"Non Durable, Essential","t":2016.56,"v":-0.0117},{"s":"Non Durable, Essential","t":2016.78,"v":-0.0021},{"s":"Non Durable, Essential","t":2016.94,"v":0.019},{"s":"Non Durable, Essential","t":2017.11,"v":0.0449},{"s":"Non Durable, Essential","t":2017.28,"v":0.0324},{"s":"Non Durable, Essential","t":2017.45,"v":0.019},{"s":"Non Durable, Essential","t":2017.67,"v":0.0094},{"s":"Non Durable, Essential","t":2017.83,"v":0.0132},{"s":"Non Durable, Essential","t":2018.0,"v":0.0209},{"s":"Non Durable, Essential","t":2018.17,"v":0.019},{"s":"Non Durable, Essential","t":2018.33,"v":0.0267},{"s":"Non Durable, Essential","t":2018.5,"v":0.042},{"s":"Non Durable, Essential","t":2018.72,"v":0.0439},{"s":"Non Durable, Essential","t":2018.89,"v":0.0343},{"s":"Non Durable, Essential","t":2019.06,"v":0.0209},{"s":"Non Durable, Essential","t":2019.22,"v":0.0247},{"s":"Non Durable, Essential","t":2019.39,"v":0.0171},{"s":"Non Durable, Essential","t":2019.56,"v":0.0094},{"s":"Non Durable, Essential","t":2019.72,"v":-0.0002},{"s":"Non Durable, Essential","t":2019.89,"v":0.0017},{"s":"Non Durable, Essential","t":2020.0,"v":0.0171},{"s":"Non Durable, Essential","t":2020.06,"v":-0.002},{"s":"Non Durable, Essential","t":2020.33,"v":-0.0192},{"s":"Non Durable, Essential","t":2020.74,"v":-0.0175},{"s":"Non Durable, Essential","t":2021.01,"v":-0.0072},{"s":"Non Durable, Essential","t":2021.28,"v":0.0357},{"s":"Non Durable, Essential","t":2021.49,"v":0.0562},{"s":"Non Durable, Essential","t":2021.69,"v":0.0734},{"s":"Non Durable, Essential","t":2021.89,"v":0.0988},{"s":"Non Durable, Essential","t":2022.03,"v":0.1145},{"s":"Non Durable, Essential","t":2022.17,"v":0.166},{"s":"Non Durable, Essential","t":2022.3,"v":0.1646},{"s":"Non Durable, Essential","t":2022.44,"v":0.1917},{"s":"Non Durable, Essential","t":2022.64,"v":0.202},{"s":"Non Durable, Essential","t":2022.78,"v":0.2209},{"s":"Non Durable, Essential","t":2022.89,"v":0.2002},{"s":"Non Durable, Essential","t":2022.98,"v":0.1831},{"s":"Non Durable, Essential","t":2023.12,"v":0.1385},{"s":"Non Durable, Essential","t":2023.21,"v":0.0905},{"s":"Non Durable, Essential","t":2023.39,"v":0.0562},{"s":"Non Durable, Essential","t":2023.59,"v":0.0357},{"s":"Non Durable, Essential","t":2023.73,"v":0.0219},{"s":"Non Durable, Essential","t":2023.8,"v":0},{"s":"Non Durable, Essential","t":2023.93,"v":0},
{"s":"Services, Non-Essential","t":2004.0,"v":0.0247},{"s":"Services, Non-Essential","t":2004.16,"v":0.0256},{"s":"Services, Non-Essential","t":2004.33,"v":0.0277},{"s":"Services, Non-Essential","t":2004.54,"v":0.0284},{"s":"Services, Non-Essential","t":2004.76,"v":0.0277},{"s":"Services, Non-Essential","t":2004.92,"v":0.0284},{"s":"Services, Non-Essential","t":2005.14,"v":0.029},{"s":"Services, Non-Essential","t":2005.2,"v":0.022},{"s":"Services, Non-Essential","t":2005.28,"v":0.0305},{"s":"Services, Non-Essential","t":2005.36,"v":0.0262},{"s":"Services, Non-Essential","t":2005.52,"v":0.0277},{"s":"Services, Non-Essential","t":2005.74,"v":0.0269},{"s":"Services, Non-Essential","t":2005.96,"v":0.0252},{"s":"Services, Non-Essential","t":2006.12,"v":0.0235},{"s":"Services, Non-Essential","t":2006.18,"v":0.022},{"s":"Services, Non-Essential","t":2006.26,"v":0.0299},{"s":"Services, Non-Essential","t":2006.34,"v":0.022},{"s":"Services, Non-Essential","t":2006.45,"v":0.0262},{"s":"Services, Non-Essential","t":2006.61,"v":0.0252},{"s":"Services, Non-Essential","t":2006.83,"v":0.0256},{"s":"Services, Non-Essential","t":2006.99,"v":0.029},{"s":"Services, Non-Essential","t":2007.21,"v":0.0311},{"s":"Services, Non-Essential","t":2007.37,"v":0.0333},{"s":"Services, Non-Essential","t":2007.54,"v":0.0326},{"s":"Services, Non-Essential","t":2007.7,"v":0.0326},{"s":"Services, Non-Essential","t":2007.92,"v":0.0348},{"s":"Services, Non-Essential","t":2008.08,"v":0.0358},{"s":"Services, Non-Essential","t":2008.14,"v":0.0418},{"s":"Services, Non-Essential","t":2008.25,"v":0.0305},{"s":"Services, Non-Essential","t":2008.35,"v":0.038},{"s":"Services, Non-Essential","t":2008.57,"v":0.0412},{"s":"Services, Non-Essential","t":2008.74,"v":0.0384},{"s":"Services, Non-Essential","t":2008.9,"v":0.0369},{"s":"Services, Non-Essential","t":2009.06,"v":0.0337},{"s":"Services, Non-Essential","t":2009.17,"v":0.022},{"s":"Services, Non-Essential","t":2009.28,"v":0.0348},{"s":"Services, Non-Essential","t":2009.39,"v":0.023},{"s":"Services, Non-Essential","t":2009.55,"v":0.0188},{"s":"Services, Non-Essential","t":2009.77,"v":0.0156},{"s":"Services, Non-Essential","t":2009.99,"v":0.0134},{"s":"Services, Non-Essential","t":2010.15,"v":0.0124},{"s":"Services, Non-Essential","t":2010.26,"v":0.006},{"s":"Services, Non-Essential","t":2010.37,"v":0.0113},{"s":"Services, Non-Essential","t":2010.53,"v":0.0124},{"s":"Services, Non-Essential","t":2010.75,"v":0.0124},{"s":"Services, Non-Essential","t":2010.97,"v":0.0134},{"s":"Services, Non-Essential","t":2011.13,"v":0.0156},{"s":"Services, Non-Essential","t":2011.24,"v":0.0149},{"s":"Services, Non-Essential","t":2011.29,"v":0.0252},{"s":"Services, Non-Essential","t":2011.4,"v":0.0209},{"s":"Services, Non-Essential","t":2011.51,"v":0.0277},{"s":"Services, Non-Essential","t":2011.68,"v":0.0277},{"s":"Services, Non-Essential","t":2011.84,"v":0.0235},{"s":"Services, Non-Essential","t":2011.95,"v":0.023},{"s":"Services, Non-Essential","t":2012.11,"v":0.0252},{"s":"Services, Non-Essential","t":2012.27,"v":0.0235},{"s":"Services, Non-Essential","t":2012.44,"v":0.0241},{"s":"Services, Non-Essential","t":2012.55,"v":0.0262},{"s":"Services, Non-Essential","t":2012.66,"v":0.023},{"s":"Services, Non-Essential","t":2012.76,"v":0.0235},{"s":"Services, Non-Essential","t":2012.93,"v":0.0284},{"s":"Services, Non-Essential","t":2013.04,"v":0.0294},{"s":"Services, Non-Essential","t":2013.15,"v":0.0358},{"s":"Services, Non-Essential","t":2013.2,"v":0.0177},{"s":"Services, Non-Essential","t":2013.31,"v":0.0262},{"s":"Services, Non-Essential","t":2013.47,"v":0.0252},{"s":"Services, Non-Essential","t":2013.69,"v":0.0262},{"s":"Services, Non-Essential","t":2013.8,"v":0.0198},{"s":"Services, Non-Essential","t":2013.91,"v":0.0145},{"s":"Services, Non-Essential","t":2014.07,"v":0.0134},{"s":"Services, Non-Essential","t":2014.23,"v":0.0226},{"s":"Services, Non-Essential","t":2014.34,"v":0.0124},{"s":"Services, Non-Essential","t":2014.51,"v":0.0156},{"s":"Services, Non-Essential","t":2014.67,"v":0.0149},{"s":"Services, Non-Essential","t":2014.89,"v":0.0156},{"s":"Services, Non-Essential","t":2014.99,"v":0.0134},{"s":"Services, Non-Essential","t":2015.1,"v":0.0171},{"s":"Services, Non-Essential","t":2015.21,"v":0.0134},{"s":"Services, Non-Essential","t":2015.32,"v":0.0337},{"s":"Services, Non-Essential","t":2015.49,"v":0.0348},{"s":"Services, Non-Essential","t":2015.65,"v":0.0333},{"s":"Services, Non-Essential","t":2015.81,"v":0.0145},{"s":"Services, Non-Essential","t":2015.98,"v":0.0124},{"s":"Services, Non-Essential","t":2016.14,"v":0.0188},{"s":"Services, Non-Essential","t":2016.25,"v":0.0092},{"s":"Services, Non-Essential","t":2016.47,"v":0.0113},{"s":"Services, Non-Essential","t":2016.63,"v":0.0102},{"s":"Services, Non-Essential","t":2016.85,"v":0.0113},{"s":"Services, Non-Essential","t":2017.07,"v":0.0166},{"s":"Services, Non-Essential","t":2017.23,"v":0.0337},{"s":"Services, Non-Essential","t":2017.34,"v":0.0262},{"s":"Services, Non-Essential","t":2017.5,"v":0.0299},{"s":"Services, Non-Essential","t":2017.66,"v":0.0294},{"s":"Services, Non-Essential","t":2017.83,"v":0.0188},{"s":"Services, Non-Essential","t":2018.04,"v":0.0149},{"s":"Services, Non-Essential","t":2018.15,"v":0.023},{"s":"Services, Non-Essential","t":2018.26,"v":0.0113},{"s":"Services, Non-Essential","t":2018.37,"v":0.0198},{"s":"Services, Non-Essential","t":2018.59,"v":0.0183},{"s":"Services, Non-Essential","t":2018.7,"v":0.023},{"s":"Services, Non-Essential","t":2018.81,"v":0.0166},{"s":"Services, Non-Essential","t":2018.92,"v":0.022},{"s":"Services, Non-Essential","t":2019.08,"v":0.0113},{"s":"Services, Non-Essential","t":2019.24,"v":0.0294},{"s":"Services, Non-Essential","t":2019.35,"v":0.0098},{"s":"Services, Non-Essential","t":2019.52,"v":0.0113},{"s":"Services, Non-Essential","t":2019.73,"v":0.0156},{"s":"Services, Non-Essential","t":2019.84,"v":0.0241},{"s":"Services, Non-Essential","t":2019.98,"v":0.0198},{"s":"Services, Non-Essential","t":2020.08,"v":0.0169},{"s":"Services, Non-Essential","t":2020.3,"v":0.009},{"s":"Services, Non-Essential","t":2020.53,"v":-0.0022},{"s":"Services, Non-Essential","t":2020.76,"v":-0.007},{"s":"Services, Non-Essential","t":2020.91,"v":-0.0038},{"s":"Services, Non-Essential","t":2021.06,"v":0.0105},{"s":"Services, Non-Essential","t":2021.17,"v":0.008},{"s":"Services, Non-Essential","t":2021.28,"v":-0.0006},{"s":"Services, Non-Essential","t":2021.43,"v":-0.0038},{"s":"Services, Non-Essential","t":2021.59,"v":0.009},{"s":"Services, Non-Essential","t":2021.74,"v":0.0217},{"s":"Services, Non-Essential","t":2021.89,"v":0.0393},{"s":"Services, Non-Essential","t":2021.99,"v":0.0345},{"s":"Services, Non-Essential","t":2022.19,"v":0.0393},{"s":"Services, Non-Essential","t":2022.34,"v":0.0585},{"s":"Services, Non-Essential","t":2022.57,"v":0.0649},{"s":"Services, Non-Essential","t":2022.72,"v":0.0761},{"s":"Services, Non-Essential","t":2022.87,"v":0.0729},{"s":"Services, Non-Essential","t":2023.02,"v":0.0665},{"s":"Services, Non-Essential","t":2023.17,"v":0.0777},{"s":"Services, Non-Essential","t":2023.32,"v":0.0745},{"s":"Services, Non-Essential","t":2023.44,"v":0.0802},{"s":"Services, Non-Essential","t":2023.55,"v":0.0777},{"s":"Services, Non-Essential","t":2023.7,"v":0.0585},{"s":"Services, Non-Essential","t":2023.8,"v":0.0553},{"s":"Services, Non-Essential","t":2023.9,"v":0.0441},
{"s":"Services, Essential","t":2004.0,"v":0.0252},{"s":"Services, Essential","t":2004.43,"v":0.0241},{"s":"Services, Essential","t":2004.54,"v":0.0252},{"s":"Services, Essential","t":2004.98,"v":0.0198},{"s":"Services, Essential","t":2005.3,"v":0.0192},{"s":"Services, Essential","t":2005.63,"v":0.0166},{"s":"Services, Essential","t":2006.18,"v":0.0149},{"s":"Services, Essential","t":2006.61,"v":0.0156},{"s":"Services, Essential","t":2007.05,"v":0.0183},{"s":"Services, Essential","t":2007.37,"v":0.0198},{"s":"Services, Essential","t":2007.86,"v":0.0183},{"s":"Services, Essential","t":2008.25,"v":0.0166},{"s":"Services, Essential","t":2008.68,"v":0.0162},{"s":"Services, Essential","t":2009.01,"v":0.0171},{"s":"Services, Essential","t":2009.44,"v":0.0177},{"s":"Services, Essential","t":2009.88,"v":0.0156},{"s":"Services, Essential","t":2010.21,"v":0.0134},{"s":"Services, Essential","t":2010.53,"v":0.0113},{"s":"Services, Essential","t":2010.97,"v":0.0145},{"s":"Services, Essential","t":2011.29,"v":0.0156},{"s":"Services, Essential","t":2011.62,"v":0.0134},{"s":"Services, Essential","t":2011.95,"v":0.0149},{"s":"Services, Essential","t":2012.38,"v":0.0124},{"s":"Services, Essential","t":2012.6,"v":0.0124},{"s":"Services, Essential","t":2012.87,"v":0.0098},{"s":"Services, Essential","t":2013.2,"v":0.0043},{"s":"Services, Essential","t":2013.69,"v":0.0049},{"s":"Services, Essential","t":2014.02,"v":0.0085},{"s":"Services, Essential","t":2014.45,"v":0.0092},{"s":"Services, Essential","t":2014.89,"v":0.0077},{"s":"Services, Essential","t":2015.32,"v":0.0092},{"s":"Services, Essential","t":2015.76,"v":0.0092},{"s":"Services, Essential","t":2016.19,"v":0.0085},{"s":"Services, Essential","t":2016.63,"v":0.0092},{"s":"Services, Essential","t":2017.07,"v":0.0102},{"s":"Services, Essential","t":2017.5,"v":0.0098},{"s":"Services, Essential","t":2017.94,"v":0.0077},{"s":"Services, Essential","t":2018.37,"v":0.0113},{"s":"Services, Essential","t":2018.81,"v":0.0107},{"s":"Services, Essential","t":2019.24,"v":0.0113},{"s":"Services, Essential","t":2019.68,"v":0.0124},{"s":"Services, Essential","t":2020.0,"v":0.0137},{"s":"Services, Essential","t":2020.3,"v":0.0099},{"s":"Services, Essential","t":2020.6,"v":0.0089},{"s":"Services, Essential","t":2020.91,"v":0.0089},{"s":"Services, Essential","t":2021.36,"v":0.0121},{"s":"Services, Essential","t":2021.81,"v":0.0169},{"s":"Services, Essential","t":2022.27,"v":0.0201},{"s":"Services, Essential","t":2022.72,"v":0.0281},{"s":"Services, Essential","t":2023.02,"v":0.0361},{"s":"Services, Essential","t":2023.32,"v":0.0387},{"s":"Services, Essential","t":2023.62,"v":0.0377},{"s":"Services, Essential","t":2023.9,"v":0.0345}
 ]
},
"resolve": {"scale": {"stroke": "independent", "strokeDash": "independent", "fill": "independent"}, "legend": {"stroke": "independent", "strokeDash": "independent"}},
"vconcat": [
 {
  "width": 1154, "height": 369,
  "encoding": {
   "x": {"field": "t", "type": "quantitative", "title": null, "scale": {"domain": [2002.77, 2025.0], "nice": false, "zero": false}, "axis": {"values": [2005, 2010, 2015, 2020, 2025], "labelExpr": "datum.value + 'm1'"}}
  },
  "layer": [
   {"data": {"name": "bands"}, "mark": {"type": "rect"}, "encoding": {"x2": {"field": "t2"}, "y": {"datum": 0.2, "type": "quantitative", "title": "y/o/y % change in prices"}, "y2": {"datum": -0.1}, "fill": {"field": "kind", "type": "nominal", "scale": {"domain": ["light", "dark"], "range": ["#f1f1f1", "#e5e5e5"]}, "legend": null}}},
   {"data": {"name": "zero"}, "transform": [{"filter": "datum.p == 'full'"}], "mark": {"type": "rule", "color": "black", "strokeWidth": 1.3}, "encoding": {"x2": {"field": "t2"}, "y": {"datum": 0, "type": "quantitative", "title": "y/o/y % change in prices"}}},
   {"data": {"name": "series"}, "transform": [{"filter": {"field": "s", "oneOf": ["Durable", "Non-Durable", "Services"]}}], "mark": {"type": "line", "strokeWidth": 1.1},
    "encoding": {
     "y": {"field": "v", "type": "quantitative", "title": "y/o/y % change in prices", "scale": {"domain": [-0.114, 0.214], "nice": false, "zero": false}, "axis": {"values": [-0.05, 0, 0.05, 0.1, 0.15, 0.2], "labelExpr": "datum.value == 0 ? '0' : (datum.value < 0 ? '-' : '') + replace(format(abs(datum.value), '.2~f'), '0.', '.')"}},
     "stroke": {"field": "s", "type": "nominal", "scale": {"domain": ["Durable", "Non-Durable", "Services"], "range": ["#228b22", "#ff8c1a", "#0000ff"]}, "legend": {"title": null, "orient": "none", "legendX": 4, "legendY": 243, "symbolType": "M-2.2,0H9.8"}}}}
  ]
 },
 {
  "resolve": {"scale": {"stroke": "independent", "strokeDash": "independent", "fill": "independent"}, "legend": {"stroke": "independent", "strokeDash": "independent"}},
  "vconcat": [
   {
    "resolve": {"scale": {"stroke": "independent", "strokeDash": "independent", "fill": "independent"}, "legend": {"stroke": "independent", "strokeDash": "independent"}},
    "hconcat": [
     {
      "width": 560, "height": 344,
      "encoding": {
       "x": {"field": "t", "type": "quantitative", "title": "quarters", "scale": {"domain": [2002.55, 2025.4], "nice": false, "zero": false}, "axis": {"values": [2005, 2010, 2015, 2020, 2025], "labelExpr": "datum.value + 'm1'"}}
      },
      "layer": [
       {"data": {"name": "bands"}, "mark": {"type": "rect"}, "encoding": {"x2": {"field": "t2"}, "y": {"datum": 0.2, "type": "quantitative", "title": "y/o/y % change in prices"}, "y2": {"datum": -0.1}, "fill": {"field": "kind", "type": "nominal", "scale": {"domain": ["light", "dark"], "range": ["#f1f1f1", "#e5e5e5"]}, "legend": null}}},
       {"data": {"name": "zero"}, "transform": [{"filter": "datum.p == 'full'"}], "mark": {"type": "rule", "color": "black", "strokeWidth": 1.3}, "encoding": {"x2": {"field": "t2"}, "y": {"datum": 0, "type": "quantitative", "title": "y/o/y % change in prices"}}},
       {"data": {"name": "series"}, "transform": [{"filter": {"field": "s", "oneOf": ["Durable, Non-Essential", "Non-Durable, Non-Essential", "Non Durable, Essential"]}}], "mark": {"type": "line", "strokeWidth": 1.1},
        "encoding": {
         "y": {"field": "v", "type": "quantitative", "title": "y/o/y % change in prices", "scale": {"domain": [-0.116, 0.238], "nice": false, "zero": false}, "axis": {"values": [-0.1, -0.06, -0.02, 0.02, 0.06, 0.1, 0.14, 0.18], "labelExpr": "datum.value == 0 ? '0' : (datum.value < 0 ? '-' : '') + replace(format(abs(datum.value), '.2~f'), '0.', '.')"}},
         "stroke": {"field": "s", "type": "nominal", "scale": {"domain": ["Durable, Non-Essential", "Non-Durable, Non-Essential", "Non Durable, Essential"], "range": ["#228b22", "#ff8c1a", "#ff9a33"]}, "legend": {"title": null, "orient": "none", "legendX": 4, "legendY": 217, "symbolType": "M-2.2,0H9.8"}},
         "strokeDash": {"field": "s", "type": "nominal", "scale": {"domain": ["Durable, Non-Essential", "Non-Durable, Non-Essential", "Non Durable, Essential"], "range": [[1, 0], [1, 0], [16, 9]]}, "legend": {"title": null, "orient": "none", "legendX": 4, "legendY": 217, "symbolType": "M-2.2,0H9.8"}}
        }}
      ]
     },
     {
      "width": 563, "height": 344,
      "encoding": {
       "x": {"field": "t", "type": "quantitative", "title": "quarters", "scale": {"domain": [2002.54, 2025.0], "nice": false, "zero": false}, "axis": {"values": [2005, 2010, 2015, 2020, 2025], "labelExpr": "datum.value + 'm1'"}}
      },
      "layer": [
       {"data": {"name": "bands"}, "mark": {"type": "rect"}, "encoding": {"x2": {"field": "t2"}, "y": {"datum": 0.2, "type": "quantitative", "title": null}, "y2": {"datum": -0.1}, "fill": {"field": "kind", "type": "nominal", "scale": {"domain": ["light", "dark"], "range": ["#f1f1f1", "#e5e5e5"]}, "legend": null}}},
       {"data": {"name": "zero"}, "transform": [{"filter": "datum.p == 'full'"}], "mark": {"type": "rule", "color": "black", "strokeWidth": 1.3}, "encoding": {"x2": {"field": "t2"}, "y": {"datum": 0, "type": "quantitative", "title": null}}},
       {"data": {"name": "series"}, "transform": [{"filter": {"field": "s", "oneOf": ["Services, Essential", "Services, Non-Essential"]}}], "mark": {"type": "line", "strokeWidth": 1.1},
        "encoding": {
         "y": {"field": "v", "type": "quantitative", "title": null, "scale": {"domain": [-0.1148, 0.215], "nice": false, "zero": false}, "axis": {"values": [-0.1, -0.06, -0.02, 0.02, 0.06, 0.1, 0.14, 0.18], "labelExpr": "datum.value == 0 ? '0' : (datum.value < 0 ? '-' : '') + replace(format(abs(datum.value), '.2~f'), '0.', '.')"}},
         "stroke": {"field": "s", "type": "nominal", "scale": {"domain": ["Services, Essential", "Services, Non-Essential"], "range": ["#0000ff", "#0000ff"]}, "legend": {"title": null, "orient": "none", "legendX": 4, "legendY": 262, "symbolType": "M-2.2,0H9.8"}},
         "strokeDash": {"field": "s", "type": "nominal", "scale": {"domain": ["Services, Essential", "Services, Non-Essential"], "range": [[16, 9], [1, 0]]}, "legend": {"title": null, "orient": "none", "legendX": 4, "legendY": 262, "symbolType": "M-2.2,0H9.8"}}
        }}
      ]
     }
    ],
    "spacing": 0
   },
   {
    "resolve": {"scale": {"stroke": "independent", "strokeDash": "independent", "fill": "independent"}, "legend": {"stroke": "independent", "strokeDash": "independent"}},
    "hconcat": [
     {
      "width": 560, "height": 344,
      "encoding": {
       "x": {"field": "t", "type": "quantitative", "title": "quarters", "scale": {"domain": [2001.683, 2020.367], "nice": false, "zero": false}, "axis": {"values": [2002, 2004, 2006, 2008, 2010, 2012, 2014, 2016, 2018, 2020], "labelExpr": "datum.value + 'm1'"}}
      },
      "layer": [
       {"data": {"name": "bands"}, "mark": {"type": "rect"}, "encoding": {"x2": {"field": "t3"}, "y": {"datum": 0.1, "type": "quantitative", "title": "y/o/y % change in prices"}, "y2": {"datum": -0.08}, "fill": {"field": "kind", "type": "nominal", "scale": {"domain": ["light", "dark"], "range": ["#f1f1f1", "#e5e5e5"]}, "legend": null}}},
       {"data": {"name": "zero"}, "transform": [{"filter": "datum.p == 'pre'"}], "mark": {"type": "rule", "color": "black", "strokeWidth": 1.3}, "encoding": {"x2": {"field": "t2"}, "y": {"datum": 0, "type": "quantitative", "title": "y/o/y % change in prices"}}},
       {"data": {"name": "series"}, "transform": [{"filter": {"field": "s", "oneOf": ["Durable, Non-Essential", "Non-Durable, Non-Essential", "Non Durable, Essential"]}}, {"filter": "datum.t <= 2020.05"}], "mark": {"type": "line", "strokeWidth": 1.1},
        "encoding": {
         "y": {"field": "v", "type": "quantitative", "title": "y/o/y % change in prices", "scale": {"domain": [-0.089, 0.1087], "nice": false, "zero": false}, "axis": {"values": [-0.08, -0.04, 0, 0.04, 0.08], "labelExpr": "datum.value == 0 ? '0' : (datum.value < 0 ? '-' : '') + replace(format(abs(datum.value), '.2~f'), '0.', '.')"}},
         "stroke": {"field": "s", "type": "nominal", "scale": {"domain": ["Durable, Non-Essential", "Non-Durable, Non-Essential", "Non Durable, Essential"], "range": ["#228b22", "#ff8c1a", "#ffa54f"]}, "legend": {"title": null, "orient": "none", "legendX": 4, "legendY": 217, "symbolType": "M-2.2,0H9.8"}},
         "strokeDash": {"field": "s", "type": "nominal", "scale": {"domain": ["Durable, Non-Essential", "Non-Durable, Non-Essential", "Non Durable, Essential"], "range": [[1, 0], [1, 0], [16, 9]]}, "legend": {"title": null, "orient": "none", "legendX": 4, "legendY": 217, "symbolType": "M-2.2,0H9.8"}}
        }}
      ]
     },
     {
      "width": 563, "height": 344,
      "encoding": {
       "x": {"field": "t", "type": "quantitative", "title": "quarters", "scale": {"domain": [2001.68, 2020.0], "nice": false, "zero": false}, "axis": {"values": [2002, 2004, 2006, 2008, 2010, 2012, 2014, 2016, 2018, 2020], "labelExpr": "datum.value + 'm1'"}}
      },
      "layer": [
       {"data": {"name": "bands"}, "mark": {"type": "rect"}, "encoding": {"x2": {"field": "t3"}, "y": {"datum": 0.1, "type": "quantitative", "title": null}, "y2": {"datum": -0.1}, "fill": {"field": "kind", "type": "nominal", "scale": {"domain": ["light", "dark"], "range": ["#f1f1f1", "#e5e5e5"]}, "legend": null}}},
       {"data": {"name": "zero"}, "transform": [{"filter": "datum.p == 'pre'"}], "mark": {"type": "rule", "color": "#333333", "strokeWidth": 1.6}, "encoding": {"x2": {"field": "t2"}, "y": {"datum": 0, "type": "quantitative", "title": null}}},
       {"data": {"name": "series"}, "transform": [{"filter": {"field": "s", "oneOf": ["Services, Essential", "Services, Non-Essential"]}}, {"filter": "datum.t <= 2020.05"}], "mark": {"type": "line", "strokeWidth": 1.1, "clip": true},
        "encoding": {
         "y": {"field": "v", "type": "quantitative", "title": null, "scale": {"domain": [-0.11, 0.11], "nice": false, "zero": false}, "axis": {"values": [-0.08, -0.04, 0, 0.04, 0.08], "labelExpr": "datum.value == 0 ? '0' : (datum.value < 0 ? '-' : '') + replace(format(abs(datum.value), '.2~f'), '0.', '.')"}},
         "stroke": {"field": "s", "type": "nominal", "scale": {"domain": ["Services, Essential", "Services, Non-Essential"], "range": ["#0000ff", "#2a2aff"]}, "legend": {"title": null, "orient": "none", "legendX": 4, "legendY": 261, "symbolType": "M-2.2,0H9.8"}},
         "strokeDash": {"field": "s", "type": "nominal", "scale": {"domain": ["Services, Essential", "Services, Non-Essential"], "range": [[16, 9], [1, 0]]}, "legend": {"title": null, "orient": "none", "legendX": 4, "legendY": 261, "symbolType": "M-2.2,0H9.8"}}
        }}
      ]
     }
    ],
    "spacing": 0
   }
  ],
  "spacing": 10
 }
],
"spacing": 24
}
